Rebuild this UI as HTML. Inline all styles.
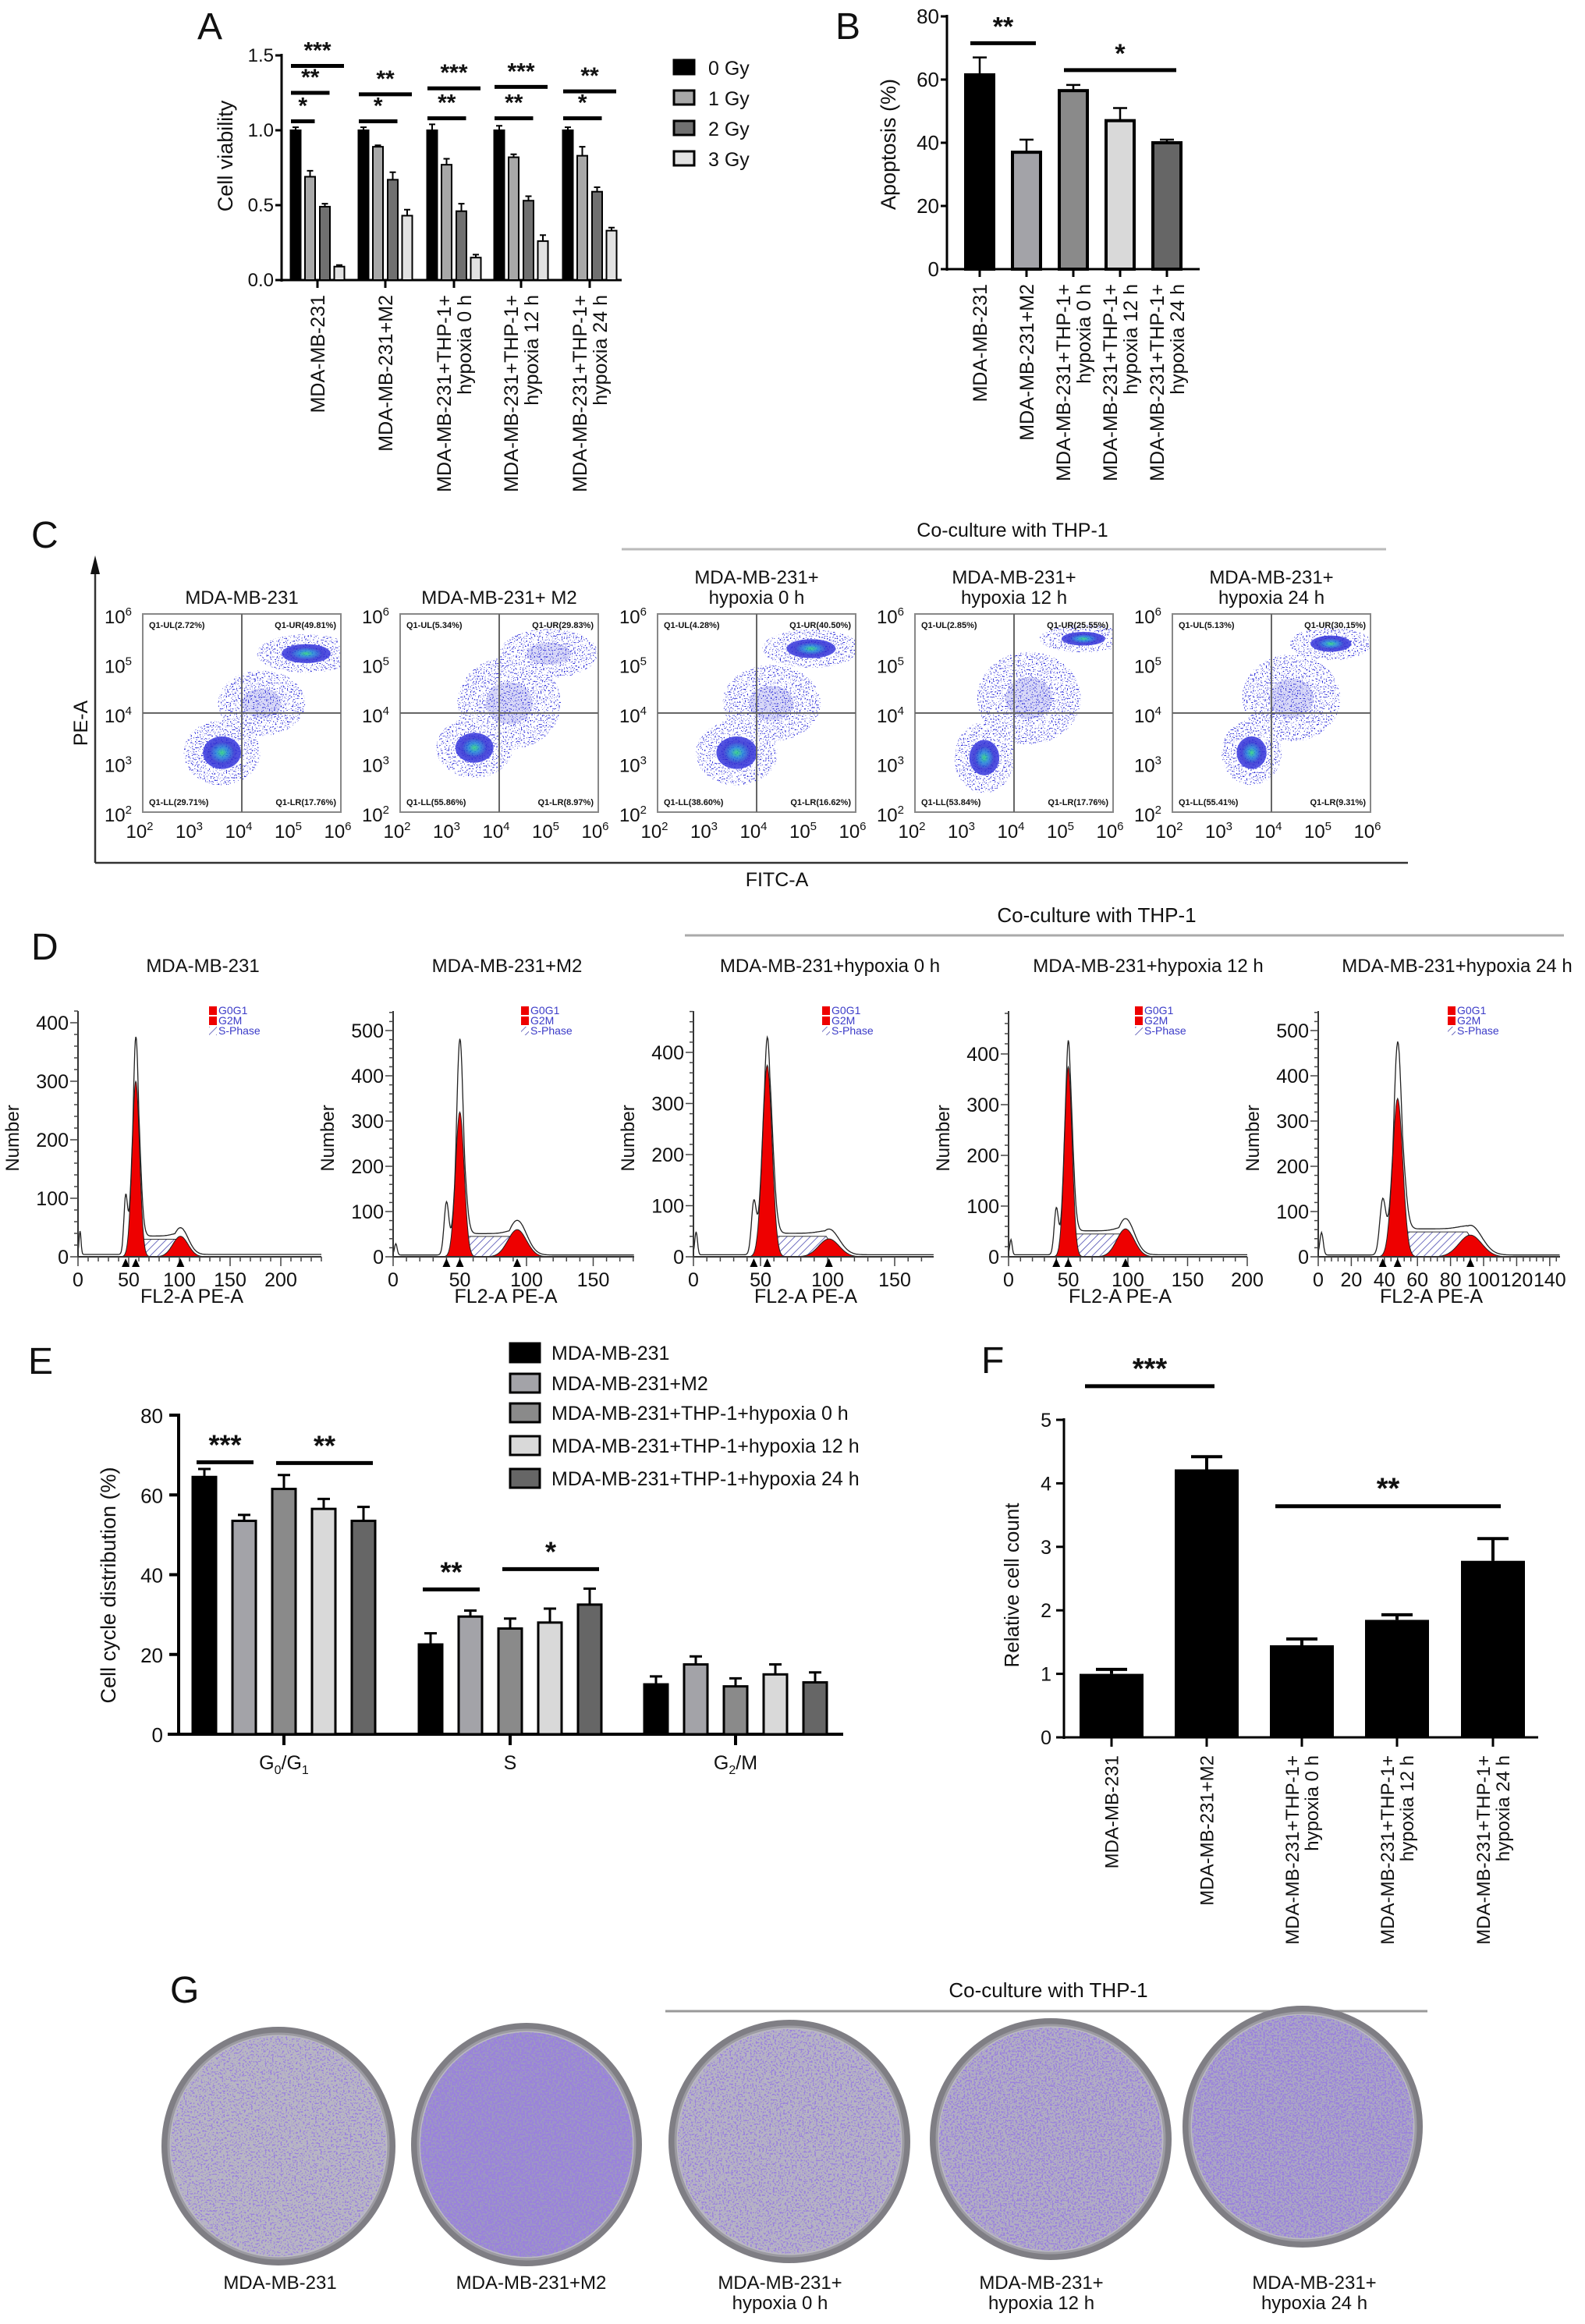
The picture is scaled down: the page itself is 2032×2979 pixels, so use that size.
<!DOCTYPE html>
<html><head><meta charset="utf-8">
<style>
html,body{margin:0;padding:0;background:#fff;}
svg{display:block;}
text{font-family:"Liberation Sans Narrow","Liberation Sans",sans-serif;fill:#111;}
.reg{font-family:"Liberation Sans",sans-serif;}
</style></head>
<body>
<svg id="fig" xmlns="http://www.w3.org/2000/svg" width="2032" height="2979" viewBox="0 0 2032 2979">
<defs>
<pattern id="hatch" patternUnits="userSpaceOnUse" width="7" height="7" patternTransform="rotate(45)">
<rect width="7" height="7" fill="#fff"/><line x1="0" y1="0" x2="0" y2="7" stroke="#4b4bb0" stroke-width="1.6"/></pattern>
<radialGradient id="blobG"><stop offset="0" stop-color="#22d07a"/><stop offset="0.3" stop-color="#1a7fd8"/><stop offset="0.65" stop-color="#2a2ad0"/><stop offset="1" stop-color="#3a3ae0"/></radialGradient>
<filter id="scat" x="0" y="0" width="100%" height="100%">
<feTurbulence type="fractalNoise" baseFrequency="0.6" numOctaves="1" seed="5" result="n"/>
<feColorMatrix in="n" type="matrix" values="0 0 0 0 0  0 0 0 0 0  0 0 0 0 0  16 0 0 0 -9.6" result="m"/>
<feComposite in="SourceGraphic" in2="m" operator="in"/>
</filter>
</defs>
</svg>
<script>
const NS="http://www.w3.org/2000/svg";
const svg=document.getElementById('fig');
const defs=svg.querySelector('defs');
function mk(tag,attrs,parent){const e=document.createElementNS(NS,tag);for(const k in attrs)e.setAttribute(k,attrs[k]);(parent||svg).appendChild(e);return e;}
function tx(str,x,y,size,anchor,parent,extra){const e=mk('text',Object.assign({x:x,y:y,'font-size':size,'text-anchor':anchor||'start'},extra||{}),parent);e.textContent=str;return e;}

/* ================= DATA ================= */
const aGroups=["MDA-MB-231","MDA-MB-231+M2","MDA-MB-231+THP-1+|hypoxia 0 h","MDA-MB-231+THP-1+|hypoxia 12 h","MDA-MB-231+THP-1+|hypoxia 24 h"];
const aDoses=["0 Gy","1 Gy","2 Gy","3 Gy"];
const aVal0=[1.0,1.0,1.0,1.0,1.0];
const aVal1=[0.69,0.89,0.77,0.82,0.83];
const aVal2=[0.49,0.67,0.46,0.53,0.59];
const aVal3=[0.09,0.43,0.15,0.26,0.33];
const aErr0=[0.02,0.02,0.04,0.03,0.02];
const aErr1=[0.04,0.01,0.04,0.02,0.06];
const aErr2=[0.02,0.05,0.05,0.03,0.03];
const aErr3=[0.01,0.04,0.02,0.04,0.02];
const aTicks=[0,0.5,1.0,1.5];
const aSig=[[0,1.06,0,1,"*"],[0,1.25,0,2,"**"],[0,1.43,0,3,"***"],[1,1.06,0,2,"*"],[1,1.24,0,3,"**"],[2,1.08,0,2,"**"],[2,1.28,0,3,"***"],[3,1.08,0,2,"**"],[3,1.29,0,3,"***"],[4,1.08,0,2,"*"],[4,1.26,0,3,"**"]];
const bCats=["MDA-MB-231","MDA-MB-231+M2","MDA-MB-231+THP-1+|hypoxia 0 h","MDA-MB-231+THP-1+|hypoxia 12 h","MDA-MB-231+THP-1+|hypoxia 24 h"];
const bVals=[61.5,37,56.5,47,40];
const bErrs=[5.5,4,1.8,4,1];
const bTicks=[0,20,40,60,80];
const bSig=[[0,1,71.5,"**"],[2,4,63,"*"]];
const cTitles=["MDA-MB-231","MDA-MB-231+ M2","MDA-MB-231+|hypoxia 0 h","MDA-MB-231+|hypoxia 12 h","MDA-MB-231+|hypoxia 24 h"];
const cUL=["2.72","5.34","4.28","2.85","5.13"];
const cUR=["49.81","29.83","40.50","25.55","30.15"];
const cLL=["29.71","55.86","38.60","53.84","55.41"];
const cLR=["17.76","8.97","16.62","17.76","9.31"];
const cClusters=[
 [[5.3,5.2,0.9,0.35,1],[3.6,3.2,0.7,0.6,1],[4.4,4.2,0.8,0.6,0]],
 [[5.0,5.2,0.9,0.45,0],[3.5,3.3,0.7,0.55,1],[4.2,4.2,0.95,0.85,0]],
 [[5.1,5.3,0.9,0.35,1],[3.6,3.2,0.75,0.6,1],[4.3,4.2,0.9,0.7,0]],
 [[5.4,5.5,0.8,0.25,1],[3.4,3.1,0.55,0.65,1],[4.3,4.3,0.95,0.85,0]],
 [[5.2,5.4,0.75,0.3,1],[3.6,3.2,0.55,0.6,1],[4.4,4.3,0.9,0.8,0]]];
const dTitles=["MDA-MB-231","MDA-MB-231+M2","MDA-MB-231+hypoxia 0 h","MDA-MB-231+hypoxia 12 h","MDA-MB-231+hypoxia 24 h"];
const dG1Pos=[57,50,55,50,48];
const dG1H=[300,320,375,375,350];
const dG1Out=[360,460,410,405,450];
const dPrePos=[47,40,45,40,39];
const dPreH=[95,115,100,90,120];
const dG2Pos=[101,93,101,98,92];
const dG2H=[35,60,35,55,48];
const dG2Out=[45,75,50,70,65];
const dSH=[30,45,40,45,55];
const dDebrisH=[40,25,45,30,50];
const dXTicks=[[0,50,100,150,200],[0,50,100,150],[0,50,100,150],[0,50,100,150,200],[0,20,40,60,80,100,120,140]];
const dYTicks=[[0,100,200,300,400],[0,100,200,300,400,500],[0,100,200,300,400],[0,100,200,300,400],[0,100,200,300,400,500]];
const eCats=["G0/G1","S","G2/M"];
const eSeries=["MDA-MB-231","MDA-MB-231+M2","MDA-MB-231+THP-1+hypoxia 0 h","MDA-MB-231+THP-1+hypoxia 12 h","MDA-MB-231+THP-1+hypoxia 24 h"];
const eG1=[64.5,53.5,61.5,56.5,53.5];
const eS=[22.5,29.5,26.5,28,32.5];
const eG2=[12.5,17.5,12,15,13];
const eG1Err=[2,1.5,3.5,2.5,3.5];
const eSErr=[2.8,1.5,2.5,3.5,4];
const eG2Err=[2,2,2,2.5,2.5];
const eTicks=[0,20,40,60,80];
const eSig=[[0,0,1,68.2,"***"],[0,2,4,68,"**"],[1,0,1,36.3,"**"],[1,2,4,41.4,"*"]];
const fCats=["MDA-MB-231","MDA-MB-231+M2","MDA-MB-231+THP-1+|hypoxia 0 h","MDA-MB-231+THP-1+|hypoxia 12 h","MDA-MB-231+THP-1+|hypoxia 24 h"];
const fVals=[1.0,4.22,1.45,1.85,2.78];
const fErrs=[0.07,0.2,0.1,0.08,0.35];
const fTicks=[0,1,2,3,4,5];
const fSig=[[0,1,5.53,"***"],[2,4,3.64,"**"]];
const gLabels=["MDA-MB-231","MDA-MB-231+M2","MDA-MB-231+|hypoxia 0 h","MDA-MB-231+|hypoxia 12 h","MDA-MB-231+|hypoxia 24 h"];
const gDensity=[0.3,0.95,0.4,0.55,0.7];

const grays4=["#000","#a8a8a8","#707070","#e2e2e2"];
const grays5=["#000","#a3a3a8","#8a8a8a","#d9d9d9","#666"];

function panelLabel(s,x,y){const t=tx(s,x,y,48,'start',svg,{class:'reg'});}
function rotLabel(str,cx,ytop,size,parent,name){
  const parts=str.split('|');const g=mk('g',{},parent);
  
  parts.forEach((p,i)=>{const off=(i-(parts.length-1)/2)*size*1.05;
    tx(p,0,0,size,'end',g,{class:'reg',transform:`translate(${cx+off+size*0.36},${ytop}) rotate(-90)`});});
}
function sigBar(x1,x2,y,stars,parent,name,sz){
  const l=mk('line',{x1:x1,x2:x2,y1:y,y2:y,stroke:'#000','stroke-width':5},parent);
  
  const t=tx(stars,(x1+x2)/2,y-10,sz||34,'middle',parent,{'font-weight':'bold',class:'reg'});
  
}

/* ================= PANEL A ================= */
panelLabel('A',253,50);
const gA=mk('g',{});
const aY0=359,aY1=71,aX0=361,aX1=797;
const yA=v=>aY0-(v/1.5)*(aY0-aY1);
const aCenters=[407,494,582,668,756];
const aOff=[-28,-9.5,9.5,28];
mk('line',{x1:aX0,x2:aX0,y1:aY0+2,y2:aY1-2,stroke:'#000','stroke-width':3},gA);
mk('line',{x1:aX0,x2:aX1,y1:aY0,y2:aY0,stroke:'#000','stroke-width':3},gA);
aTicks.forEach(v=>{const y=yA(v);mk('line',{x1:aX0-8,x2:aX0,y1:y,y2:y,stroke:'#000','stroke-width':3},gA);
  const t=tx(v.toFixed(1),aX0-10,y+8,24,'end',gA);});
{const t=tx('Cell viability',0,0,27,'middle',gA,{class:'reg',transform:`translate(298,200) rotate(-90)`});}
const aVals=[aVal0,aVal1,aVal2,aVal3],aErrs=[aErr0,aErr1,aErr2,aErr3];
aGroups.forEach((gname,gi)=>{
  mk('line',{x1:aCenters[gi],x2:aCenters[gi],y1:aY0,y2:aY0+10,stroke:'#000','stroke-width':3},gA);
  aVals.forEach((ser,si)=>{const v=ser[gi],e=aErrs[si][gi],cx=aCenters[gi]+aOff[si];
    const r=mk('rect',{x:cx-6.5,y:yA(v),width:13,height:aY0-yA(v),fill:grays4[si],stroke:'#000','stroke-width':2},gA);
    
    const eb=mk('path',{d:`M${cx},${yA(v)} V${yA(v+e)} M${cx-4},${yA(v+e)} H${cx+4}`,stroke:'#000','stroke-width':2,fill:'none'},gA);
    });
  rotLabel(gname,aCenters[gi],378,25,gA,'a-x-label-'+(gi+1));
});
aSig.forEach(s=>{const c=aCenters[s[0]];sigBar(c+aOff[s[2]]-6,c+aOff[s[3]]+6,yA(s[1]),s[4],gA,'a-sig-'+s[0],30);});
const legA=mk('g',{},gA);
aDoses.forEach((d,i)=>{const y=87+i*39;const r=mk('rect',{x:864,y:y-10,width:26,height:18,fill:grays4[i],stroke:'#000','stroke-width':3},legA);
  
  const t=tx(d,908,y+9,25,'start',legA);});

/* ================= PANEL B ================= */
panelLabel('B',1071,50);
const gB=mk('g',{});
const bY0=345,bY1=21,bX0=1214,bX1=1538;
const yB=v=>bY0-(v/80)*(bY0-bY1);
const bCenters=[1256,1316,1376,1436,1496];
mk('line',{x1:bX0,x2:bX0,y1:bY0+2,y2:bY1-2,stroke:'#000','stroke-width':3},gB);
mk('line',{x1:bX0,x2:bX1,y1:bY0,y2:bY0,stroke:'#000','stroke-width':3},gB);
bTicks.forEach(v=>{const y=yB(v);mk('line',{x1:bX0-8,x2:bX0,y1:y,y2:y,stroke:'#000','stroke-width':3},gB);
  const t=tx(String(v),bX0-10,y+9,26,'end',gB);});
{const t=tx('Apoptosis (%)',0,0,27,'middle',gB,{class:'reg',transform:`translate(1148,185) rotate(-90)`});}
bCats.forEach((c,i)=>{const cx=bCenters[i],v=bVals[i],e=bErrs[i];
  const r=mk('rect',{x:cx-18,y:yB(v),width:36,height:bY0-yB(v),fill:grays5[i],stroke:'#000','stroke-width':4},gB);
  
  const eb=mk('path',{d:`M${cx},${yB(v)} V${yB(v+e)} M${cx-9},${yB(v+e)} H${cx+9}`,stroke:'#000','stroke-width':2.5,fill:'none'},gB);
  
  mk('line',{x1:cx,x2:cx,y1:bY0,y2:bY0+10,stroke:'#000','stroke-width':3},gB);
  rotLabel(c,cx,364,25,gB,'b-x-label-'+(i+1));});
bSig.forEach(s=>sigBar(bCenters[s[0]]-12,bCenters[s[1]]+12,yB(s[2]),s[3],gB,'b-sig',34));

/* ================= PANEL C ================= */
panelLabel('C',40,702);
const gC=mk('g',{});
{const t=tx('Co-culture with THP-1',1298,688,25,'middle',gC);
 const l=mk('line',{x1:797,x2:1777,y1:704,y2:704,stroke:'#bbb','stroke-width':3},gC);}
{const a=mk('path',{d:'M122,1106 V724 M122,1106 H1805',stroke:'#333','stroke-width':2.5,fill:'none'},gC);
 const h=mk('path',{d:'M122,712 L116,736 L128,736 Z',fill:'#111'},gC);
 const t1=tx('PE-A',0,0,25,'middle',gC,{class:'reg',transform:'translate(112,927) rotate(-90)'});
 const t2=tx('FITC-A',996,1136,25,'middle',gC,{class:'reg'});}
const cX0=[183,513,843,1173,1503],cW=254,cTop=787,cBot=1041;
cTitles.forEach((title,i)=>{
  const g=mk('g',{},gC);
  const x0=cX0[i];const xs=l=>x0+(l-2)/4*cW;const ys=l=>cBot-(l-2)/4*(cBot-cTop);
  const parts=title.split('|');
  parts.forEach((p,k)=>{const t=tx(p,x0+cW/2,parts.length===1?774:748+k*26,24,'middle',g);});
  const cp='clipC'+i;const cpe=mk('clipPath',{id:cp},g);mk('rect',{x:x0,y:cTop,width:cW,height:cBot-cTop},cpe);
  const blobs=mk('g',{'clip-path':`url(#${cp})`},g);
  const sc=mk('g',{filter:'url(#scat)'},blobs);
  cClusters[i].forEach(c=>{
    const e=mk('ellipse',{cx:xs(c[0]),cy:ys(c[1]),rx:c[2]/4*cW*1.1,ry:c[3]/4*(cBot-cTop)*1.1,fill:'#2525d8'},sc);
    
    if(c[4]){const k=mk('ellipse',{cx:xs(c[0]),cy:ys(c[1]),rx:c[2]/4*cW*0.55,ry:c[3]/4*(cBot-cTop)*0.55,fill:'url(#blobG)',opacity:0.85},blobs);
      }
    else{const k=mk('ellipse',{cx:xs(c[0]),cy:ys(c[1]),rx:c[2]/4*cW*0.5,ry:c[3]/4*(cBot-cTop)*0.5,fill:'#3a3ad8',opacity:0.2},blobs);
      }
  });
  const box=mk('rect',{x:x0,y:cTop,width:cW,height:cBot-cTop,fill:'none',stroke:'#888','stroke-width':2},g);
  const q=mk('path',{d:`M${xs(4)},${cTop} V${cBot} M${x0},${ys(4)} H${x0+cW}`,stroke:'#666','stroke-width':2},g);
  [[`Q1-UL(${cUL[i]}%)`,x0+8,cTop+18,'start'],[`Q1-UR(${cUR[i]}%)`,x0+cW-6,cTop+18,'end'],[`Q1-LL(${cLL[i]}%)`,x0+8,cBot-9,'start'],[`Q1-LR(${cLR[i]}%)`,x0+cW-6,cBot-9,'end']].forEach(q=>{
    const t=tx(q[0],q[1],q[2],11,q[3],g,{'font-weight':'bold',fill:'#333'});});
  [2,3,4,5,6].forEach(d=>{
    const t=tx('10',x0-14,ys(d)+12,24,'end',g);const s=mk('tspan',{dy:-10,'font-size':15},t);s.textContent=d;
    
    const t2=tx('10',xs(d)-4,1074,24,'middle',g);const s2=mk('tspan',{dy:-10,'font-size':15},t2);s2.textContent=d;
    });
});

/* ================= PANEL D ================= */
panelLabel('D',40,1230);
const gD=mk('g',{});
{const t=tx('Co-culture with THP-1',1406,1182,26,'middle',gD,{class:'reg'});
 const l=mk('line',{x1:878,x2:2005,y1:1199,y2:1199,stroke:'#aaa','stroke-width':3},gD);}
const dX0=[100,504,889,1293,1690],dKx=[1.3,1.71,1.72,1.53,2.12],dKy=[0.75,0.58,0.655,0.65,0.58],dEnd=[412,813,1197,1599,2000];
const dTitleX=[260,650,1064,1472,1868];
const dLegX=[280,680,1066,1467,1868];
const dY0=1611,dTop=1296;
const gauss=(x,m,s)=>Math.exp(-0.5*((x-m)/s)**2);
dTitles.forEach((title,i)=>{
  const g=mk('g',{},gD);
  const X=v=>dX0[i]+v*dKx[i],Y=v=>dY0-v*dKy[i];
  const t=tx(title,dTitleX[i],1246,24,'middle',g);
  const xmax=(dEnd[i]-dX0[i])/dKx[i];
  const g1=dG1Pos[i],g2=dG2Pos[i],sd1=g1*0.065,sd2=g2*0.075;
  const sFn=x=>{if(x<g1-3||x>g2+8)return 0;const r=Math.min(1,(x-(g1-3))/8)*Math.min(1,(g2+8-x)/10);return dSH[i]*Math.max(0,r);};
  let sPts=[],g1Pts=[],g2Pts=[],tot=[];
  for(let x=0;x<=xmax;x+=0.5){
    sPts.push([X(x),Y(sFn(x))]);
    g1Pts.push([X(x),Y(dG1H[i]*gauss(x,g1,sd1))]);
    g2Pts.push([X(x),Y(dG2H[i]*gauss(x,g2,sd2))]);
    const v=dDebrisH[i]*gauss(x,2,1)+dPreH[i]*gauss(x,dPrePos[i],1.8)+Math.max(dG1Out[i]*gauss(x,g1,sd1*0.8),dG1H[i]*gauss(x,g1,sd1))+Math.max(sFn(x)*1.05,dG2Out[i]*gauss(x,g2,sd2)*0.9)+(x<g2+20?dG2H[i]*0.15*gauss(x,g2,sd2):0)+4;
    tot.push([X(x),Y(v)]);}
  const poly=pts=>'M'+X(0)+','+dY0+' L'+pts.map(p=>p[0].toFixed(1)+','+p[1].toFixed(1)).join(' L')+' L'+X(xmax)+','+dY0+' Z';
  const s=mk('path',{d:poly(sPts),fill:'url(#hatch)',stroke:'#333','stroke-width':1},g);
  const a1=mk('path',{d:poly(g1Pts),fill:'#ee0000',stroke:'#222','stroke-width':1},g);
  const a2=mk('path',{d:poly(g2Pts),fill:'#ee0000',stroke:'#222','stroke-width':1},g);
  const o=mk('path',{d:'M'+tot.map(p=>p[0].toFixed(1)+','+p[1].toFixed(1)).join(' L'),fill:'none',stroke:'#222','stroke-width':1.3},g);
  const ax=mk('path',{d:`M${dX0[i]},${dTop} V${dY0} H${dEnd[i]}`,stroke:'#333','stroke-width':2,fill:'none'},g);
  const yt=dYTicks[i];
  for(let v=0;v<=(dY0-dTop)/dKy[i];v+=20){const major=yt.includes(v);mk('line',{x1:dX0[i]-(major?10:5),x2:dX0[i],y1:Y(v),y2:Y(v),stroke:'#444','stroke-width':1.5},g);}
  yt.forEach(v=>{const t=tx(String(v),dX0[i]-12,Y(v)+9,25,'end',g);});
  const xt=dXTicks[i];const step=(xt[1]-xt[0])/5;
  for(let v=0;v<=xmax;v+=step){const major=xt.includes(Math.round(v));mk('line',{x1:X(v),x2:X(v),y1:dY0,y2:dY0+(major?12:6),stroke:'#444','stroke-width':1.5},g);}
  xt.forEach(v=>{const t=tx(String(v),X(v),dY0+38,25,'middle',g);});
  [dPrePos[i],g1,g2].forEach(p=>{const m=mk('path',{d:`M${X(p)},${dY0+2} l-5,11 h10 Z`,fill:'#000'},g);});
  const xl=tx('FL2-A PE-A',(dX0[i]+dEnd[i])/2-10,1670,25,'middle',g);
  const yl=tx('Number',0,0,24,'middle',g,{class:'reg',transform:`translate(${dX0[i]-76},1459) rotate(-90)`});
  const lg=mk('g',{},g);
  const lx=dLegX[i];
  mk('rect',{x:lx-12,y:1290,width:10,height:11,fill:'#ee0000'},lg);mk('rect',{x:lx-12,y:1303,width:10,height:11,fill:'#ee0000'},lg);
  mk('rect',{x:lx-12,y:1316,width:10,height:11,fill:'url(#hatch)'},lg);
  ['G0G1','G2M','S-Phase'].forEach((s,k)=>{const t=tx(s,lx,1300+k*13,14,'start',lg,{style:'fill:#3b3bc8'});});
});

/* ================= PANEL E ================= */
panelLabel('E',36,1761);
const gE=mk('g',{});
const eY0=2223,eY1=1814,eX0=229,eX1=1081;
const yE=v=>eY0-(v/80)*(eY0-eY1);
const eCenters=[364,654,943],eOff=[-102,-51,0,51,102];
mk('line',{x1:eX0,x2:eX0,y1:eY0+2,y2:eY1-2,stroke:'#000','stroke-width':4},gE);
mk('line',{x1:eX0-14,x2:eX1,y1:eY0,y2:eY0,stroke:'#000','stroke-width':4},gE);
eTicks.forEach(v=>{const y=yE(v);mk('line',{x1:eX0-12,x2:eX0,y1:y,y2:y,stroke:'#000','stroke-width':4},gE);
  const t=tx(String(v),eX0-20,y+10,26,'end',gE);});
{const t=tx('Cell cycle distribution (%)',0,0,27,'middle',gE,{class:'reg',transform:'translate(148,2032) rotate(-90)'});}
const eVals=[eG1,eS,eG2],eErrs=[eG1Err,eSErr,eG2Err];
eCats.forEach((c,ci)=>{
  mk('line',{x1:eCenters[ci],x2:eCenters[ci],y1:eY0,y2:eY0+14,stroke:'#000','stroke-width':4},gE);
  eSeries.forEach((s,si)=>{const cx=eCenters[ci]+eOff[si],v=eVals[ci][si],e=eErrs[ci][si];
    const r=mk('rect',{x:cx-15,y:yE(v),width:30,height:eY0-yE(v),fill:grays5[si],stroke:'#000','stroke-width':3},gE);
    
    const eb=mk('path',{d:`M${cx},${yE(v)} V${yE(v+e)} M${cx-8},${yE(v+e)} H${cx+8}`,stroke:'#000','stroke-width':3,fill:'none'},gE);
    });
});
[['G','0','/G','1'],['S'],['G','2','/M']].forEach((parts,ci)=>{
  const t=tx('',eCenters[ci],2268,25,'middle',gE);
  parts.forEach((p,k)=>{const sub=(p==='0'||p==='1'||p==='2');const s=mk('tspan',sub?{'font-size':16,dy:6}:(k>0?{dy:-6}:{}),t);s.textContent=p;});});
eSig.forEach(s=>sigBar(eCenters[s[0]]+eOff[s[1]]-10,eCenters[s[0]]+eOff[s[2]]+12,yE(s[3]),s[4],gE,'e-sig',36));
const legE=mk('g',{},gE);
eSeries.forEach((s,i)=>{const y=[1734,1773,1811,1853,1895][i];
  const r=mk('rect',{x:654,y:y-12,width:38,height:24,fill:grays5[i],stroke:'#000','stroke-width':3},legE);
  const t=tx(s,707,y+9,25,'start',legE);});

/* ================= PANEL F ================= */
panelLabel('F',1258,1760);
const gF=mk('g',{});
const fY0=2227,fY1=1820,fX0=1364,fX1=1972;
const yF=v=>fY0-(v/5)*(fY0-fY1);
const fCenters=[1425,1547,1669,1791,1914];
mk('line',{x1:fX0,x2:fX0,y1:fY0+2,y2:fY1-2,stroke:'#000','stroke-width':3},gF);
mk('line',{x1:fX0-10,x2:fX1,y1:fY0,y2:fY0,stroke:'#000','stroke-width':3},gF);
fTicks.forEach(v=>{const y=yF(v);mk('line',{x1:fX0-10,x2:fX0,y1:y,y2:y,stroke:'#000','stroke-width':3},gF);
  const t=tx(String(v),fX0-16,y+9,25,'end',gF,{class:'reg'});});
{const t=tx('Relative cell count',0,0,26,'middle',gF,{class:'reg',transform:'translate(1306,2032) rotate(-90)'});}
fCats.forEach((c,i)=>{const cx=fCenters[i],v=fVals[i],e=fErrs[i];
  const r=mk('rect',{x:cx-41,y:yF(v),width:82,height:fY0-yF(v),fill:'#000'},gF);
  const eb=mk('path',{d:`M${cx},${yF(v)} V${yF(v+e)} M${cx-20},${yF(v+e)} H${cx+20}`,stroke:'#000','stroke-width':4,fill:'none'},gF);
  mk('line',{x1:cx,x2:cx,y1:fY0,y2:fY0+12,stroke:'#000','stroke-width':3},gF);
  rotLabel(c,cx,2250,24,gF,'f-x-label-'+(i+1));});
fSig.forEach(s=>sigBar(fCenters[s[0]]-34,fCenters[s[1]]+10,yF(s[2]),s[3],gF,'f-sig',38));

/* ================= PANEL G ================= */
panelLabel('G',218,2567);
const gG=mk('g',{});
{const t=tx('Co-culture with THP-1',1344,2560,26,'middle',gG);
 const l=mk('line',{x1:853,x2:1830,y1:2578,y2:2578,stroke:'#999','stroke-width':3},gG);}
const gCx=[357,675,1012,1347,1670],gCy=[2751,2749,2745,2742,2726],gRx=[150,148,155,155,154],gRy=[153,156,156,155,155];
const gLabX=[359,681,1000,1335,1685];
gLabels.forEach((lab,i)=>{
  const fid='dishF'+i;
  const f=mk('filter',{id:fid,x:0,y:0,width:'100%',height:'100%'},defs);
  mk('feTurbulence',{type:'fractalNoise',baseFrequency:0.45,numOctaves:2,seed:11+i,result:'n'},f);
  const thr=0.62-gDensity[i]*0.17;
  mk('feColorMatrix',{in:'n',type:'matrix',values:`0 0 0 0 0.32  0 0 0 0 0.22  0 0 0 0 0.72  18 0 0 0 ${(-18*thr).toFixed(2)}`,result:'p'},f);
  mk('feComposite',{in:'p',in2:'SourceGraphic',operator:'in'},f);
  const g=mk('g',{},gG);
  mk('ellipse',{cx:gCx[i],cy:gCy[i],rx:gRx[i],ry:gRy[i],fill:'#7f7e84'},g);
  const inner=mk('ellipse',{cx:gCx[i],cy:gCy[i],rx:gRx[i]-9,ry:gRy[i]-9,fill:'#bcbac4',stroke:'#9c9ba2','stroke-width':3},g);
  
  const tint=mk('ellipse',{cx:gCx[i],cy:gCy[i],rx:gRx[i]-12,ry:gRy[i]-12,fill:'#4a3cc0',opacity:(gDensity[i]*gDensity[i]*0.3).toFixed(2)},g);
  
  const sp=mk('ellipse',{cx:gCx[i],cy:gCy[i],rx:gRx[i]-12,ry:gRy[i]-12,fill:'#fff',filter:`url(#${fid})`},g);
  
  const parts=lab.split('|');
  parts.forEach((p,k)=>{const t=tx(p,gLabX[i],2934+k*26,24,'middle',g);});
});
</script>
</body></html>
